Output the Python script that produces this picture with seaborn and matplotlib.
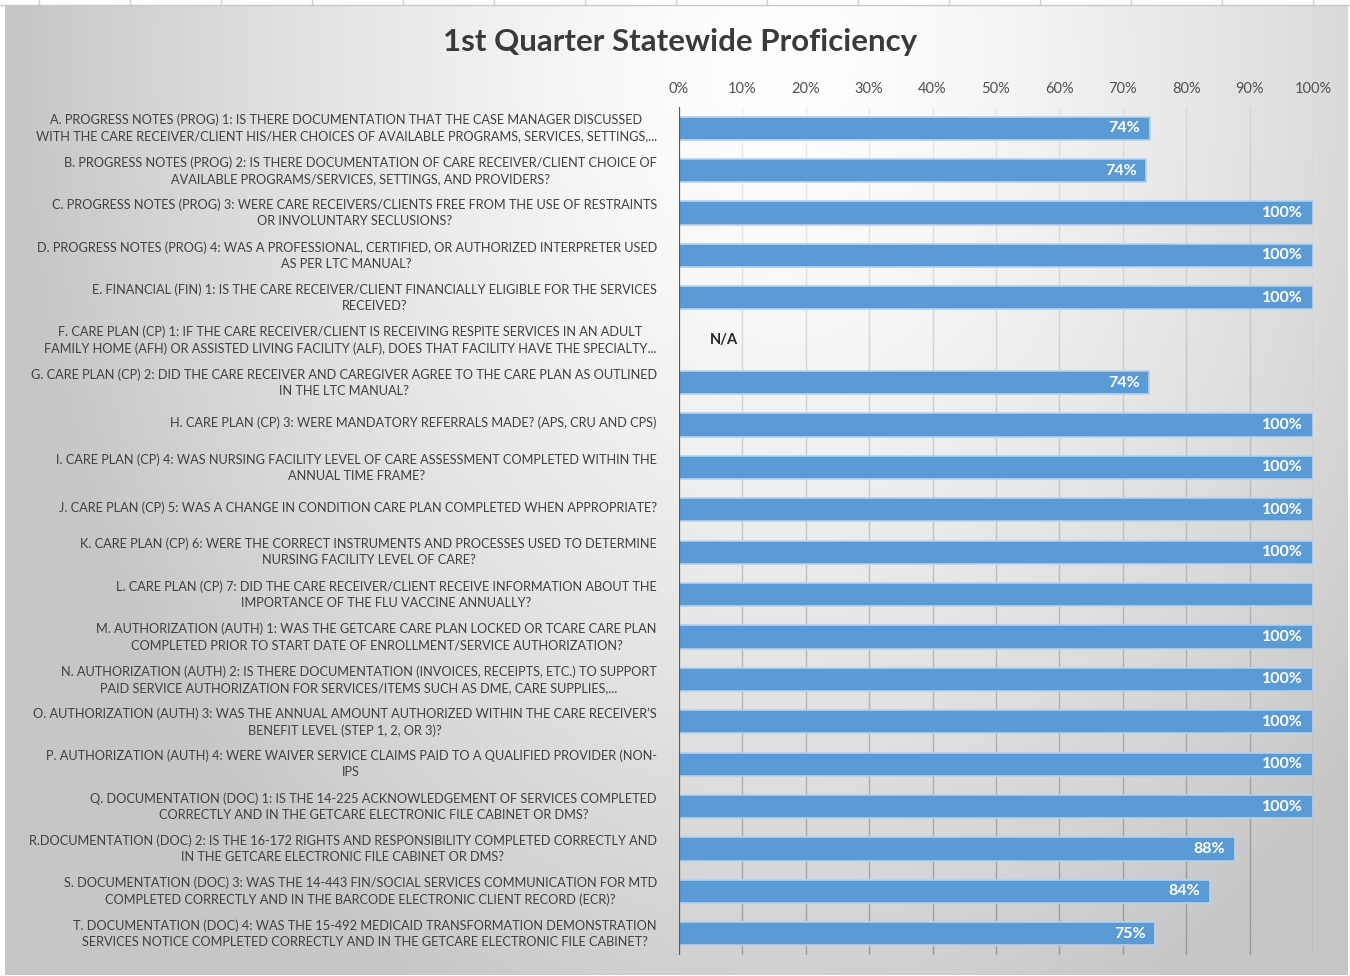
import numpy as np
import pandas as pd
import matplotlib
matplotlib.use("Agg")
import matplotlib.pyplot as plt
import matplotlib.transforms as mtransforms
from matplotlib.collections import LineCollection
import seaborn as sns

TITLE = "1st Quarter Statewide Proficiency"

QUESTIONS = [
    "A. PROGRESS NOTES (PROG) 1: IS THERE DOCUMENTATION THAT THE CASE MANAGER DISCUSSED\nWITH THE CARE RECEIVER/CLIENT HIS/HER CHOICES OF AVAILABLE PROGRAMS, SERVICES, SETTINGS,...",
    "B. PROGRESS NOTES (PROG) 2: IS THERE DOCUMENTATION OF CARE RECEIVER/CLIENT CHOICE OF\nAVAILABLE PROGRAMS/SERVICES, SETTINGS, AND PROVIDERS?",
    "C. PROGRESS NOTES (PROG) 3: WERE CARE RECEIVERS/CLIENTS FREE FROM THE USE OF RESTRAINTS\nOR INVOLUNTARY SECLUSIONS?",
    "D. PROGRESS NOTES (PROG) 4: WAS A PROFESSIONAL, CERTIFIED, OR AUTHORIZED INTERPRETER USED\nAS PER LTC MANUAL?",
    "E. FINANCIAL (FIN) 1: IS THE CARE RECEIVER/CLIENT FINANCIALLY ELIGIBLE FOR THE SERVICES\nRECEIVED?",
    "F. CARE PLAN (CP) 1: IF THE CARE RECEIVER/CLIENT IS RECEIVING RESPITE SERVICES IN AN ADULT\nFAMILY HOME (AFH) OR ASSISTED LIVING FACILITY (ALF), DOES THAT FACILITY HAVE THE SPECIALTY...",
    "G. CARE PLAN (CP) 2: DID THE CARE RECEIVER AND CAREGIVER AGREE TO THE CARE PLAN AS OUTLINED\nIN THE LTC MANUAL?",
    "H. CARE PLAN (CP) 3: WERE MANDATORY REFERRALS MADE? (APS, CRU AND CPS)",
    "I. CARE PLAN (CP) 4: WAS NURSING FACILITY LEVEL OF CARE ASSESSMENT COMPLETED WITHIN THE\nANNUAL TIME FRAME?",
    "J. CARE PLAN (CP) 5: WAS A CHANGE IN CONDITION CARE PLAN COMPLETED WHEN APPROPRIATE?",
    "K. CARE PLAN (CP) 6: WERE THE CORRECT INSTRUMENTS AND PROCESSES USED TO DETERMINE\nNURSING FACILITY LEVEL OF CARE?",
    "L. CARE PLAN (CP) 7: DID THE CARE RECEIVER/CLIENT RECEIVE INFORMATION ABOUT THE\nIMPORTANCE OF THE FLU VACCINE ANNUALLY?",
    "M. AUTHORIZATION (AUTH) 1: WAS THE GETCARE CARE PLAN LOCKED OR TCARE CARE PLAN\nCOMPLETED PRIOR TO START DATE OF ENROLLMENT/SERVICE AUTHORIZATION?",
    "N. AUTHORIZATION (AUTH) 2: IS THERE DOCUMENTATION (INVOICES, RECEIPTS, ETC.) TO SUPPORT\nPAID SERVICE AUTHORIZATION FOR SERVICES/ITEMS SUCH AS DME, CARE SUPPLIES,...",
    "O. AUTHORIZATION (AUTH) 3: WAS THE ANNUAL AMOUNT AUTHORIZED WITHIN THE CARE RECEIVER\u2019S\nBENEFIT LEVEL (STEP 1, 2, OR 3)?",
    "P. AUTHORIZATION (AUTH) 4: WERE WAIVER SERVICE CLAIMS PAID TO A QUALIFIED PROVIDER (NON-\nIPS",
    "Q. DOCUMENTATION (DOC) 1: IS THE 14-225 ACKNOWLEDGEMENT OF SERVICES COMPLETED\nCORRECTLY AND IN THE GETCARE ELECTRONIC FILE CABINET OR DMS?",
    "R.DOCUMENTATION (DOC) 2: IS THE 16-172 RIGHTS AND RESPONSIBILITY COMPLETED CORRECTLY AND\nIN THE GETCARE ELECTRONIC FILE CABINET OR DMS?",
    "S. DOCUMENTATION (DOC) 3: WAS THE 14-443 FIN/SOCIAL SERVICES COMMUNICATION FOR MTD\nCOMPLETED CORRECTLY AND IN THE BARCODE ELECTRONIC CLIENT RECORD (ECR)?",
    "T. DOCUMENTATION (DOC) 4: WAS THE 15-492 MEDICAID TRANSFORMATION DEMONSTRATION\nSERVICES NOTICE COMPLETED CORRECTLY AND IN THE GETCARE ELECTRONIC FILE CABINET?",
]

# proficiency share per question, None = not applicable
PROFICIENCY = [0.743, 0.737, 1.0, 1.0, 1.0, None, 0.742, 1.0, 1.0, 1.0,
               1.0, 1.0, 1.0, 1.0, 1.0, 1.0, 1.0, 0.877, 0.838, 0.751]

# the L bar carries no data label in the source chart
SHOW_LABEL = [True] * 11 + [False] + [True] * 8

X_TICKS = [0.0, 0.1, 0.2, 0.3, 0.4, 0.5, 0.6, 0.7, 0.8, 0.9, 1.0]

W, H = 1350, 976
BAR_COLOR = "#5b9bd5"
TEXT_COLOR = "#404040"

sns.set_theme(style="white")
plt.rcParams["font.family"] = ["Lato", "DejaVu Sans"]

df = pd.DataFrame({"question": QUESTIONS, "value": PROFICIENCY})
df["plot_value"] = df["value"].fillna(0.0)

fig = plt.figure(figsize=(W / 100, H / 100), dpi=100)
fig.patch.set_facecolor("white")

# background: radial grey gradient panel like the Excel chart area
bg = fig.add_axes([0, 0, 1, 1], zorder=-10)
yy, xx = np.mgrid[0:H, 0:W]
r = np.sqrt(((xx - 780) / 760.0) ** 2 + ((yy - 60) / 1050.0) ** 2)
shade = 1.0 - 0.22 * np.clip(r, 0, 1) ** 1.4
img = np.ones((H, W))
panel = (xx >= 5) & (xx <= 1347) & (yy >= 5) & (yy <= 974)
img[panel] = shade[panel]
bg.imshow(np.dstack([img, img, img]), extent=(0, W, H, 0), aspect="auto",
          interpolation="bilinear")
for cx in range(39, W, 91):
    bg.plot([cx, cx], [0, 4], color="#d0d0d0", lw=1)
bg.plot([0, W], [4.5, 4.5], color="#c8c8c8", lw=1)
bg.set_xlim(0, W)
bg.set_ylim(H, 0)
bg.axis("off")

ax = fig.add_axes([679 / W, 1 - 955 / H, (1313 - 679) / W, (955 - 107) / H])
ax.set_facecolor("none")

sns.barplot(data=df, y="question", x="plot_value", order=QUESTIONS, orient="h",
            color=BAR_COLOR, saturation=1, width=0.55, edgecolor="#b4d1ee",
            linewidth=1.2, ax=ax, zorder=3)

ax.set_xlim(0, 1)
ax.set_ylim(len(QUESTIONS) - 0.5, -0.5)

# vertical gridlines that get darker towards the bottom
segs, cols = [], []
steps = np.linspace(-0.5, len(QUESTIONS) - 0.5, 41)
for xt in X_TICKS[1:]:
    for i in range(len(steps) - 1):
        segs.append([(xt, steps[i]), (xt, steps[i + 1])])
        a = 0.10 + 0.32 * (i / (len(steps) - 2))
        cols.append((0.35, 0.35, 0.35, a))
ax.add_collection(LineCollection(segs, colors=cols, linewidths=1.0, zorder=1))
ax.axvline(0, color="#595959", lw=1.6, zorder=4)

for s in ax.spines.values():
    s.set_visible(False)

ax.xaxis.tick_top()
ax.set_xticks(X_TICKS)
ax.set_xticklabels([f"{int(round(t * 100))}%" for t in X_TICKS])
ax.tick_params(axis="x", length=0, pad=8, labelsize=10.5, labelcolor="#505050")
ax.tick_params(axis="y", length=0, pad=16, labelsize=9.2, labelcolor=TEXT_COLOR)
lift = mtransforms.ScaledTranslation(0, 3 / 100, fig.dpi_scale_trans)
for lab in ax.get_yticklabels():
    lab.set_multialignment("center")
    lab.set_linespacing(1.4)
    lab.set_transform(lab.get_transform() + lift)
ax.set_xlabel("")
ax.set_ylabel("")

for i, (v, show) in enumerate(zip(PROFICIENCY, SHOW_LABEL)):
    if v is None:
        ax.annotate("N/A", xy=(0, i), xytext=(22, 0), textcoords="offset points",
                    ha="left", va="center", fontsize=10.5, fontweight="bold",
                    color="#262626", zorder=5)
    elif show:
        ax.annotate(f"{round(v * 100):.0f}%", xy=(v, i), xytext=(-7, 0),
                    textcoords="offset points", ha="right", va="center",
                    fontsize=11.5, fontweight="bold", color="white", zorder=5)

fig.text(680 / W, 1 - 42 / H, TITLE, ha="center", va="center", fontsize=22.5,
         fontweight="bold", color="#3a3a3a")

fig.savefig("out.png", dpi=100)
